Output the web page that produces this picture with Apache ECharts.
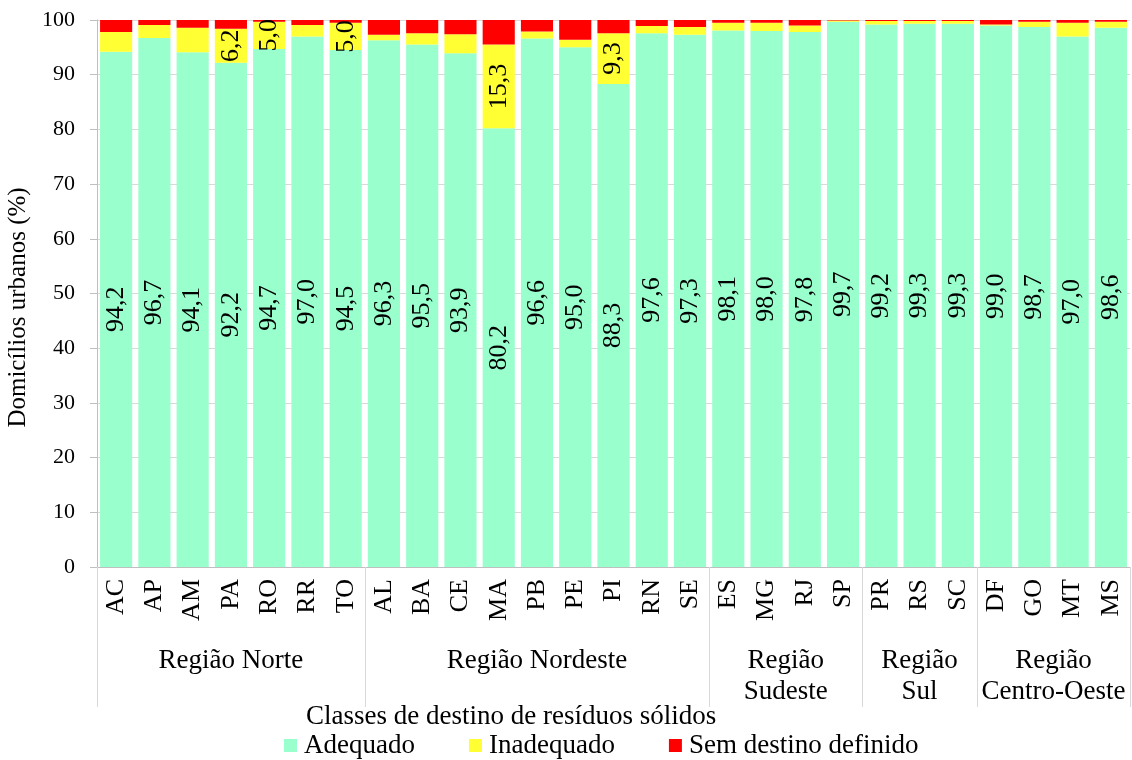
<!DOCTYPE html>
<html>
<head>
<meta charset="utf-8">
<script src="https://cdn.jsdelivr.net/npm/echarts@6/dist/echarts.min.js"></script>
<style>
html, body { margin: 0; padding: 0; background: #fff; }
#main { width: 1132px; height: 760px; }
</style>
</head>
<body>
<div id="main"></div>
<script>
// estados (ordem do grafico)
var estados = ['AC','AP','AM','PA','RO','RR','TO',
               'AL','BA','CE','MA','PB','PE','PI','RN','SE',
               'ES','MG','RJ','SP',
               'PR','RS','SC',
               'DF','GO','MT','MS'];
var regioes = ['Região Norte', 'Região Nordeste', 'Região\nSudeste', 'Região\nSul', 'Região\nCentro-Oeste'];
var estadosPorRegiao = [7, 9, 4, 3, 4];

var adequado = [94.2, 96.7, 94.1, 92.2, 94.7, 97.0, 94.5,
                96.3, 95.5, 93.9, 80.2, 96.6, 95.0, 88.3, 97.6, 97.3,
                98.1, 98.0, 97.8, 99.7,
                99.2, 99.3, 99.3,
                99.0, 98.7, 97.0, 98.6];
var inadequado = [3.6, 2.4, 4.5, 6.2, 5.0, 2.1, 5.0,
                  1.0, 2.1, 3.5, 15.3, 1.3, 1.4, 9.3, 1.3, 1.4,
                  1.4, 1.5, 1.2, 0.2,
                  0.6, 0.5, 0.5,
                  0.2, 1.0, 2.5, 1.1];
var semDestino = [2.2, 0.9, 1.4, 1.6, 0.3, 0.9, 0.5,
                  2.7, 2.4, 2.6, 4.5, 2.1, 3.6, 2.4, 1.1, 1.3,
                  0.5, 0.5, 1.0, 0.1,
                  0.2, 0.2, 0.2,
                  0.8, 0.3, 0.5, 0.3];
var yTicks = [0, 10, 20, 30, 40, 50, 60, 70, 80, 90, 100];

// limites e centros das regioes no eixo secundario
var limites = [0];
var centros = [];
for (var i = 0; i < estadosPorRegiao.length; i++) {
    var ini = limites[limites.length - 1];
    limites.push(ini + estadosPorRegiao[i]);
    centros.push(ini + estadosPorRegiao[i] / 2);
}

function virgula(v) {
    return v.toFixed(1).replace('.', ',');
}

var fonte = 'Liberation Serif';
var cinza = '#d9d9d9';

var myChart = echarts.init(document.getElementById('main'));
var option = {
    animation: false,
    textStyle: { fontFamily: fonte, color: '#000' },
    title: {
        text: 'Classes de destino de resíduos sólidos',
        left: 306,
        top: 703,
        padding: 0,
        textStyle: { fontFamily: fonte, fontSize: 27, fontWeight: 'normal', color: '#000' }
    },
    legend: {
        left: 284,
        top: 732,
        padding: 0,
        itemWidth: 13,
        itemHeight: 13,
        itemGap: 54,
        icon: 'rect',
        textStyle: { fontFamily: fonte, fontSize: 27, color: '#000', padding: [0, 0, 0, 2] },
        data: ['Adequado', 'Inadequado', 'Sem destino definido']
    },
    grid: { left: 97, right: 2, top: 20, bottom: 193, outerBoundsMode: 'none' },
    xAxis: [
        {
            type: 'category',
            data: estados,
            axisLine: { lineStyle: { color: '#bfbfbf' } },
            axisTick: { length: 61, lineStyle: { color: cinza } },
            axisLabel: { rotate: 90, fontSize: 26, margin: 12, color: '#000', fontFamily: fonte, interval: 0 }
        },
        {
            type: 'value',
            position: 'bottom',
            min: 0,
            max: estados.length,
            axisLine: { show: false },
            splitLine: { show: false },
            axisTick: { show: true, length: 140, customValues: limites, lineStyle: { color: cinza } },
            axisLabel: {
                customValues: centros,
                margin: 78,
                fontSize: 27,
                lineHeight: 31,
                color: '#000',
                fontFamily: fonte,
                formatter: function (v) {
                    for (var k = 0; k < centros.length; k++) {
                        if (Math.abs(centros[k] - v) < 0.01) return regioes[k];
                    }
                    return '';
                }
            }
        }
    ],
    yAxis: {
        type: 'value',
        min: yTicks[0],
        max: yTicks[yTicks.length - 1],
        interval: yTicks[1] - yTicks[0],
        name: 'Domicílios urbanos (%)',
        nameLocation: 'middle',
        nameGap: 60,
        nameTextStyle: { fontFamily: fonte, fontSize: 25, color: '#000', padding: [0, 28, 0, 0] },
        axisLine: { show: true, lineStyle: { color: '#bfbfbf' } },
        axisTick: { show: true, length: 7, lineStyle: { color: '#bfbfbf' } },
        axisLabel: { fontSize: 22, color: '#000', margin: 22, fontFamily: fonte },
        splitLine: { lineStyle: { color: cinza } }
    },
    series: [
        {
            name: 'Adequado',
            type: 'bar',
            stack: 'total',
            barCategoryGap: '16%',
            itemStyle: { color: '#99ffcc' },
            label: {
                show: true,
                position: 'inside',
                rotate: 90,
                fontSize: 26,
                color: '#000',
                fontFamily: fonte,
                formatter: function (p) { return virgula(p.value); }
            },
            data: adequado
        },
        {
            name: 'Inadequado',
            type: 'bar',
            stack: 'total',
            itemStyle: { color: '#ffff33' },
            label: {
                show: true,
                position: 'inside',
                rotate: 90,
                fontSize: 26,
                color: '#000',
                fontFamily: fonte,
                formatter: function (p) { return p.value >= 5 ? virgula(p.value) : ''; }
            },
            data: inadequado
        },
        {
            name: 'Sem destino definido',
            type: 'bar',
            stack: 'total',
            itemStyle: { color: '#ff0000' },
            data: semDestino
        }
    ]
};
myChart.setOption(option);
</script>
</body>
</html>
